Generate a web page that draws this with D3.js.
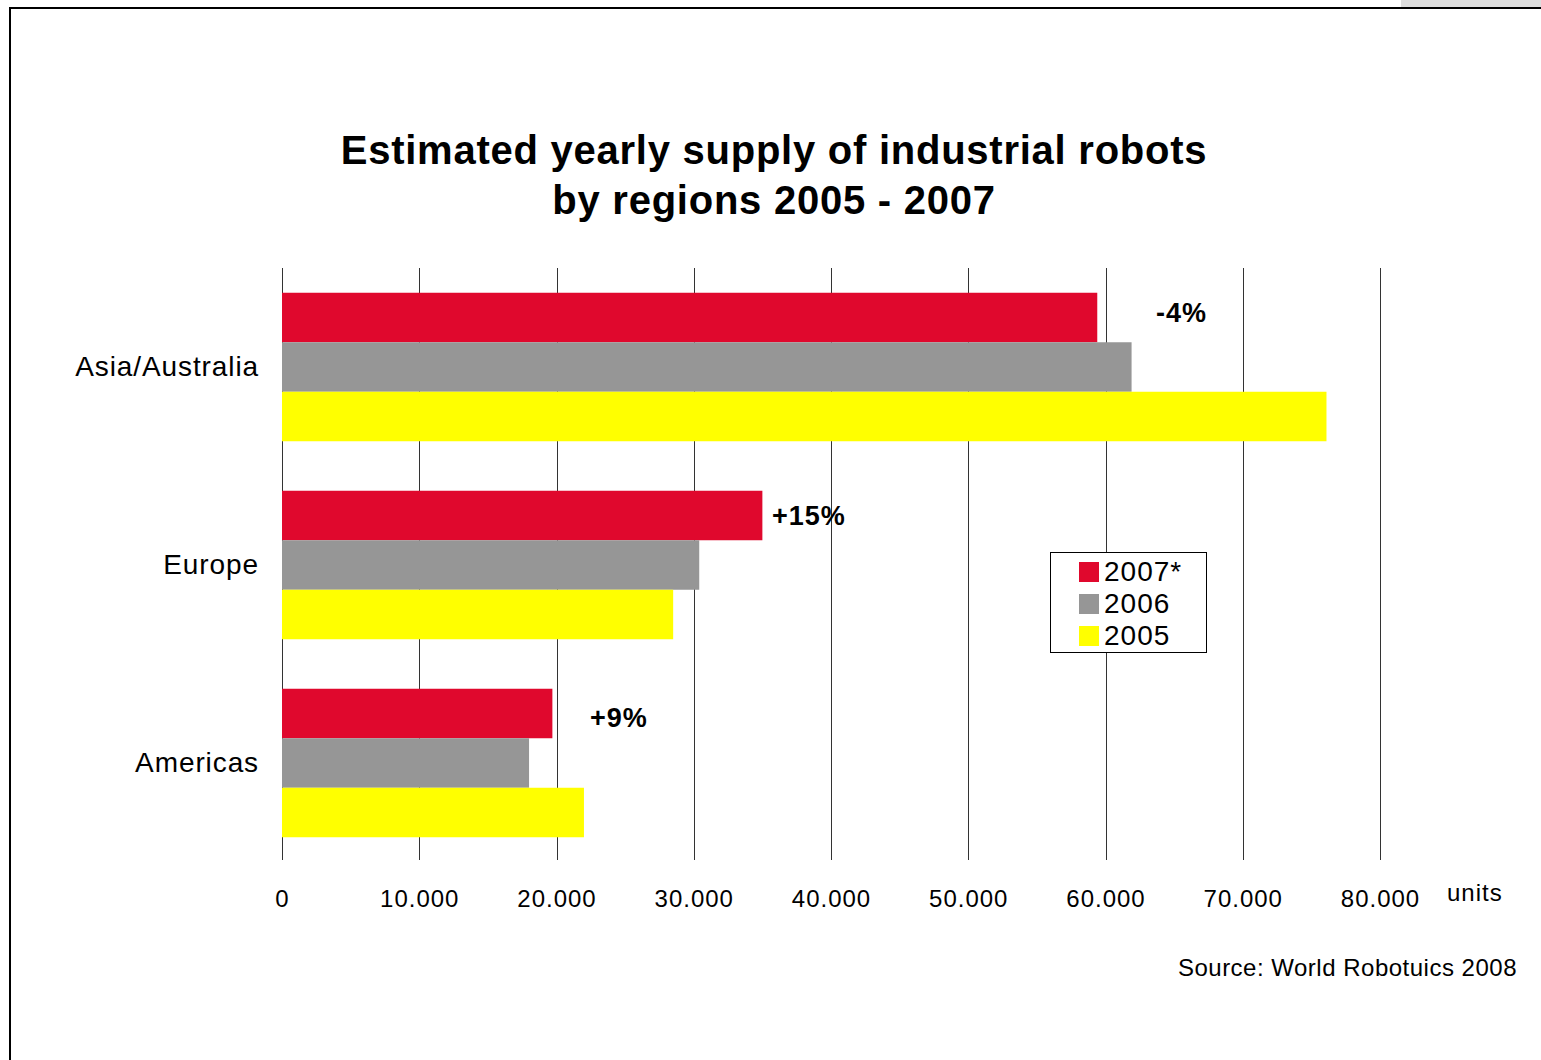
<!DOCTYPE html>
<html><head><meta charset="utf-8">
<script src="https://cdn.jsdelivr.net/npm/d3@7"></script>
<style>body{margin:0;background:#fff}svg{display:block}text{font-family:"Liberation Sans",Arial,sans-serif}</style>
</head><body>
<script>
const regions = ["Asia/Australia", "Europe", "Americas"];
const years = ["2007*", "2006", "2005"];
const values2007 = [59400, 35000, 19700];
const values2006 = [61900, 30400, 18000];
const values2005 = [76100, 28500, 22000];
const changeLabels = ["-4%", "+15%", "+9%"];
const tickValues = [0, 10000, 20000, 30000, 40000, 50000, 60000, 70000, 80000];
const colors = ["#E0082D", "#969696", "#FFFF00"];

const series = [values2007, values2006, values2005];
const W = 1541, H = 1060;
const svg = d3.select("body").append("svg").attr("width", W).attr("height", H);

// frame
svg.append("rect").attr("x", 1401).attr("y", 0).attr("width", 140).attr("height", 7).attr("fill", "#dddddd");
svg.append("line").attr("x1", 9).attr("x2", W).attr("y1", 8).attr("y2", 8).attr("stroke", "#000").attr("stroke-width", 2);
svg.append("line").attr("x1", 10).attr("x2", 10).attr("y1", 7).attr("y2", H).attr("stroke", "#000").attr("stroke-width", 2);

// title
const title = svg.append("text").attr("x", 774).attr("text-anchor", "middle")
  .attr("font-size", 40).attr("font-weight", "bold").attr("letter-spacing", 0.75).attr("fill", "#000");
title.append("tspan").attr("x", 774).attr("y", 164).text("Estimated yearly supply of industrial robots");
title.append("tspan").attr("x", 774).attr("y", 214).text("by regions 2005 - 2007");

const plotTop = 268, plotBottom = 860, plotLeft = 282;
const x = d3.scaleLinear().domain([0, 80000]).range([plotLeft, 1380]);
const y0 = d3.scaleBand().domain(regions).range([268, 862]).paddingInner(0.25).paddingOuter(0.125);
const y1 = d3.scaleBand().domain(years).range([0, y0.bandwidth()]);

// gridlines
svg.append("g").selectAll("line").data(tickValues).join("line")
  .attr("x1", d => Math.round(x(d)) + 0.5).attr("x2", d => Math.round(x(d)) + 0.5)
  .attr("y1", plotTop).attr("y2", plotBottom).attr("stroke", "#333").attr("stroke-width", 1);

// bars
const groups = svg.append("g").selectAll("g").data(regions).join("g")
  .attr("transform", r => `translate(0,${y0(r)})`);
groups.selectAll("rect").data((r, i) => years.map((yr, j) => ({yr, v: series[j][i], c: colors[j]}))).join("rect")
  .attr("x", plotLeft).attr("y", d => y1(d.yr)).attr("width", d => x(d.v) - plotLeft)
  .attr("height", y1.bandwidth()).attr("fill", d => d.c);

// x axis labels
const fmt = d => d === 0 ? "0" : d3.format(",")(d).replace(/,/g, ".");
const xAxis = d3.axisBottom(x).tickValues(tickValues).tickFormat(fmt).tickSize(0).tickPadding(30);
const gx = svg.append("g").attr("transform", `translate(0,${plotBottom})`).call(xAxis);
gx.select(".domain").remove();
gx.selectAll("text").attr("font-size", 24).attr("letter-spacing", 1).attr("fill", "#000").attr("font-family", "Liberation Sans, Arial, sans-serif");

svg.append("text").attr("x", 1447).attr("y", 901).attr("font-size", 24).attr("letter-spacing", 1).text("units");

// y labels
const yAxis = d3.axisLeft(y0).tickSize(0).tickPadding(23);
const gy = svg.append("g").attr("transform", `translate(${plotLeft},0)`).call(yAxis);
gy.select(".domain").remove();
gy.selectAll("text").attr("font-size", 28).attr("letter-spacing", 0.9).attr("fill", "#000").attr("font-family", "Liberation Sans, Arial, sans-serif");

// change annotations
const annX = [1156, 772, 590];
const annDy = [-5, 0, 4];
svg.append("g").selectAll("text").data(regions).join("text")
  .attr("x", (r, i) => annX[i]).attr("y", (r, i) => y0(r) + y1("2007*") + y1.bandwidth() / 2 + 9 + annDy[i])
  .attr("font-size", 27).attr("letter-spacing", 1).attr("font-weight", "bold").text((r, i) => changeLabels[i]);

// legend
const lg = svg.append("g").attr("transform", "translate(1050,552)");
lg.append("rect").attr("x", 0.5).attr("y", 0.5).attr("width", 156).attr("height", 100).attr("fill", "#fff").attr("stroke", "#000");
years.forEach((yr, j) => {
  lg.append("rect").attr("x", 29).attr("y", 10 + j * 32).attr("width", 20).attr("height", 20).attr("fill", colors[j]);
  lg.append("text").attr("x", 54).attr("y", 29 + j * 32).attr("font-size", 28).attr("letter-spacing", 1).text(yr);
});

// source
svg.append("text").attr("x", 1517).attr("y", 976).attr("text-anchor", "end").attr("font-size", 24).attr("letter-spacing", 0.5).text("Source: World Robotuics 2008");
</script>
</body></html>
